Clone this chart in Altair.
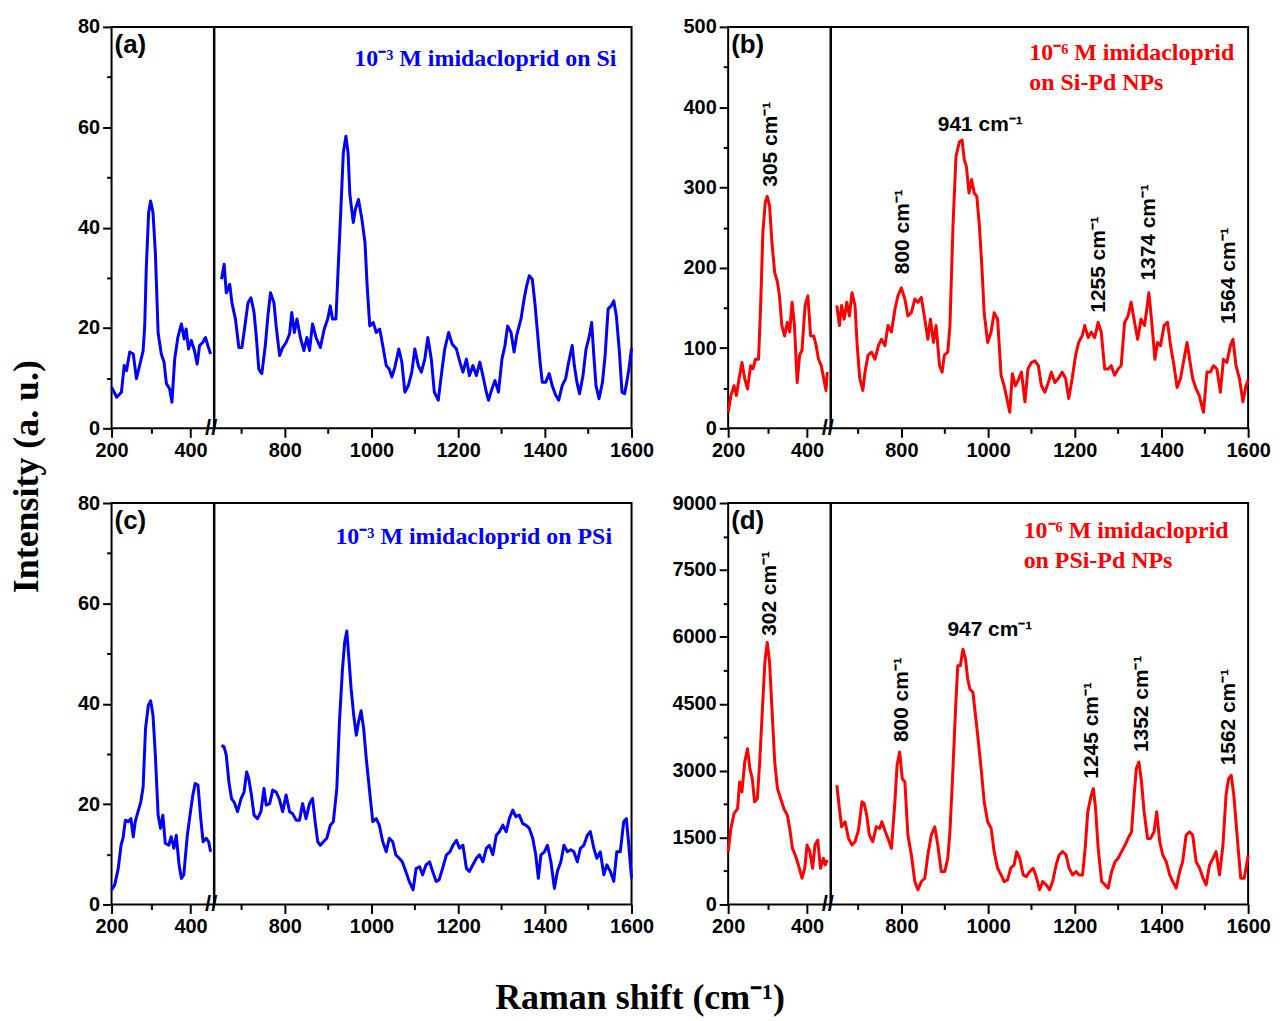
import altair as alt
import pandas as pd

# ---------------- data ----------------
# Panel (a): 10^-3 M imidacloprid on Si
a_low_x = [200, 213, 225, 232, 238, 246, 255, 263, 272, 280, 284, 288, 294, 299, 305, 311, 318, 326, 333, 339,
           347, 353, 360, 368, 377, 384, 389, 395, 402, 410, 417, 423, 431, 438, 444, 451]
a_low_y = [8.2, 6.2, 7.2, 12.5, 11.5, 15.2, 14.8, 9.9, 12.8, 15.5, 20.4, 32, 43, 45.3, 43, 35, 19, 14.8, 13.2, 8.9,
           7.9, 5.2, 13.8, 18.1, 20.8, 17.8, 19.8, 15.8, 17.5, 15.5, 12.8, 16.5, 17.1, 18.1, 16.5, 14.8]
a_high_x = [654, 660, 665, 673, 678, 686, 694, 701, 707, 715, 722, 729, 734, 740, 747, 755, 761, 767, 775, 780,
            788, 795, 803, 811, 816, 822, 828, 836, 844, 851, 857, 864, 872, 882, 891, 899, 905, 910, 918, 922,
            929, 935, 941, 946, 950, 958, 963, 970, 978, 985, 990, 996, 1004, 1011, 1019, 1026, 1034, 1041, 1047, 1054,
            1063, 1070, 1077, 1085, 1093, 1100, 1108, 1115, 1123, 1130, 1138, 1145, 1154, 1162, 1169, 1178, 1186, 1196, 1204, 1211,
            1219, 1226, 1234, 1242, 1250, 1257, 1265, 1270, 1278, 1285, 1293, 1301, 1308, 1314, 1322, 1329, 1335, 1345, 1352, 1358,
            1364, 1371, 1377, 1383, 1389, 1394, 1402, 1410, 1417, 1425, 1432, 1440, 1448, 1455, 1463, 1468, 1474, 1480, 1488, 1495,
            1503, 1508, 1513, 1518, 1525, 1533, 1539, 1546, 1553, 1559, 1565, 1572, 1578, 1584, 1589, 1594, 1600]
a_high_y = [29.7, 32.7, 27, 28.7, 25, 21.8, 16.1, 16.1, 19.8, 25, 26, 23.1, 18.5, 11.8, 10.9, 16.5, 22.4, 27, 25, 20.4,
            14.5, 16.1, 17.1, 18.8, 23.1, 19.1, 21.8, 18.1, 15.5, 18.1, 15.5, 20.8, 18.1, 16.1, 19.8, 21.8, 24.4, 21.8, 21.8, 29.7,
            43, 54.9, 58.2, 54.9, 46.7, 41, 43.7, 45.6, 41.6, 37, 28.4, 20.4, 21.1, 19.1, 19.8, 16.5, 12.5, 11.8, 10.2, 12.2,
            15.8, 13.2, 7.2, 8.5, 11.2, 15.8, 12.5, 11.2, 13.8, 18.1, 13.8, 7.2, 5.6, 11.2, 15.8, 19.1, 16.8, 15.8, 13.2, 11.2,
            13.8, 10.5, 12.5, 10.5, 13.2, 10.5, 7.2, 5.6, 7.9, 9.5, 7.2, 13.8, 16.5, 20.4, 19.1, 15.2, 18.5, 21.8, 25.7, 28.4,
            30.4, 29.7, 25, 19.1, 13.2, 9.2, 9.2, 10.9, 8.5, 6.6, 5.6, 8.5, 9.9, 13.2, 16.5, 12.5, 9.2, 6.9, 10.5, 15.8,
            18.5, 21.1, 14.5, 8.5, 5.9, 9.2, 14.5, 23.8, 24.4, 25.4, 22.4, 15.2, 7.2, 6.9, 9.2, 11.8, 16]

# Panel (b): 10^-6 M imidacloprid on Si-Pd NPs
b_low_x = [200, 207, 215, 221, 227, 235, 242, 249, 257, 263, 269, 277, 282, 288, 294, 299, 305, 311, 318, 325,
           330, 336, 343, 350, 356, 362, 368, 375, 381, 387, 395, 402, 409, 417, 423, 429, 436, 442, 448, 451]
b_low_y = [20, 41, 53, 41, 60, 82, 62, 49, 78, 74, 86, 86, 148, 244, 281, 289, 277, 231, 194, 182,
           165, 128, 115, 132, 120, 157, 128, 57, 91, 97, 153, 165, 115, 115, 103, 86, 78, 62, 47, 70]
b_high_x = [651, 657, 662, 668, 674, 680, 686, 693, 698, 704, 711, 716, 723, 731, 739, 747, 754, 762, 769, 777,
            785, 792, 800, 808, 815, 823, 831, 838, 846, 854, 861, 867, 874, 880, 888, 894, 899, 907, 912, 919,
            926, 934, 940, 945, 950, 956, 962, 968, 974, 980, 986, 991, 999, 1007, 1014, 1022, 1030, 1037, 1045, 1050,
            1056, 1063, 1071, 1077, 1085, 1092, 1100, 1108, 1116, 1123, 1131, 1139, 1146, 1154, 1162, 1171, 1179, 1186, 1194, 1202,
            1209, 1217, 1223, 1231, 1238, 1246, 1254, 1261, 1269, 1277, 1284, 1292, 1300, 1307, 1315, 1323, 1330, 1338, 1345, 1353,
            1361, 1366, 1371, 1377, 1385, 1391, 1398, 1406, 1414, 1421, 1429, 1436, 1444, 1452, 1459, 1465, 1472, 1480, 1487, 1497,
            1505, 1513, 1520, 1528, 1536, 1543, 1551, 1559, 1565, 1572, 1580, 1588, 1595, 1600]
b_high_y = [153, 128, 153, 136, 157, 140, 169, 153, 103, 62, 47, 70, 91, 95, 86, 103, 111, 103, 128, 120,
            148, 165, 175, 161, 140, 144, 161, 157, 163, 136, 111, 136, 107, 128, 78, 70, 91, 95, 128, 252,
            339, 357, 359, 335, 326, 293, 310, 293, 289, 252, 198, 144, 107, 120, 144, 136, 66, 53, 33, 20,
            68, 53, 62, 70, 33, 74, 82, 84, 78, 53, 45, 57, 70, 57, 62, 70, 62, 37, 62, 91,
            107, 115, 128, 113, 120, 113, 132, 120, 74, 74, 78, 66, 74, 78, 132, 140, 157, 132, 111, 136,
            128, 148, 169, 136, 86, 107, 103, 128, 132, 103, 78, 51, 62, 86, 107, 86, 62, 49, 41, 20,
            70, 70, 78, 74, 45, 86, 82, 103, 111, 78, 62, 33, 53, 60]

# Panel (c): 10^-3 M imidacloprid on PSi
c_low_x = [200, 208, 217, 224, 229, 235, 242, 249, 255, 260, 267, 274, 280, 286, 293, 299, 305, 311, 318, 324,
           330, 336, 345, 351, 358, 364, 371, 377, 383, 392, 400, 406, 412, 419, 426, 432, 440, 446, 451]
c_low_y = [2.9, 3.9, 7.2, 11.8, 13.2, 16.8, 16.5, 17.1, 13.5, 16.5, 18.5, 20.4, 23.4, 35, 39.6, 40.6, 37.7, 29.7, 17.8, 15.2,
           17.8, 12.2, 11.8, 13.5, 11.2, 13.8, 7.9, 5.2, 5.9, 13.8, 18.5, 21.8, 24.1, 23.8, 17.1, 12.5, 13.2, 12.5, 10.5]
c_high_x = [654, 660, 665, 671, 677, 683, 691, 699, 706, 712, 717, 723, 729, 737, 745, 752, 757, 765, 772, 780,
            787, 795, 803, 811, 818, 826, 834, 841, 849, 857, 864, 870, 876, 882, 889, 897, 905, 912, 920, 926,
            933, 938, 943, 948, 953, 959, 965, 970, 976, 982, 988, 995, 1003, 1011, 1018, 1026, 1034, 1041, 1049, 1056,
            1064, 1071, 1079, 1087, 1096, 1103, 1111, 1118, 1126, 1134, 1141, 1149, 1156, 1164, 1173, 1181, 1188, 1196, 1203, 1211,
            1219, 1226, 1234, 1242, 1249, 1257, 1265, 1272, 1280, 1288, 1295, 1303, 1311, 1318, 1326, 1333, 1341, 1349, 1356, 1364,
            1372, 1379, 1385, 1391, 1399, 1406, 1414, 1422, 1429, 1437, 1444, 1452, 1460, 1467, 1475, 1482, 1490, 1498, 1505, 1513,
            1520, 1528, 1536, 1543, 1551, 1559, 1566, 1574, 1582, 1588, 1593, 1600]
c_high_y = [31.7, 31.4, 29.7, 24.4, 21.1, 20.4, 18.5, 21.1, 22.4, 26.4, 25, 21.8, 17.8, 17.1, 18.5, 23.1, 19.8, 20.1, 22.8, 22.4,
            21.1, 18.5, 21.8, 18.5, 18.1, 16.8, 16.8, 20.1, 17.1, 20.1, 21.1, 16.5, 12.5, 11.8, 12.5, 13.2, 15.8, 16.5, 23.1, 36.3,
            46.9, 52.2, 54.5, 48.9, 43, 37.7, 33.7, 36.3, 38.6, 35, 29, 23.1, 16.5, 17.1, 15.8, 12.5, 10.5, 13.2, 12.5, 9.9,
            9.2, 8.5, 6.6, 4.6, 2.9, 7.2, 7.5, 5.9, 7.9, 8.5, 6.6, 4.6, 4.9, 7.2, 9.9, 10.5, 11.8, 12.8, 11.2, 11.8,
            7.2, 6.6, 7.9, 9.2, 9.9, 8.5, 11.2, 11.8, 9.9, 13.8, 14.5, 15.8, 14.5, 17.1, 18.8, 17.5, 17.8, 16.1, 15.8, 15.2,
            13.2, 9.9, 5.2, 9.9, 10.5, 11.8, 8.5, 3.2, 6.6, 8.5, 11.8, 10.5, 10.9, 10.5, 8.5, 11.2, 11.8, 13.8, 14.5, 11.2,
            9.2, 10.5, 5.9, 7.9, 6.6, 4.6, 10.5, 10.5, 16.5, 17.1, 12.5, 5.2]

# Panel (d): 10^-6 M imidacloprid on PSi-Pd NPs
d_low_x = [200, 207, 215, 224, 229, 235, 242, 249, 255, 261, 267, 274, 280, 286, 293, 299, 305, 311, 318, 325,
           333, 341, 350, 356, 363, 370, 378, 387, 394, 400, 407, 414, 420, 427, 434, 441, 446, 451]
d_low_y = [1184, 1705, 2040, 2151, 2747, 2524, 3194, 3491, 3045, 2821, 2300, 2375, 3194, 4236, 5427, 5873, 5427, 4385, 3194, 2598,
           2375, 2151, 2003, 1705, 1258, 1109, 886, 588, 811, 1333, 1184, 811, 1333, 1444, 811, 1035, 886, 997]
d_high_x = [651, 657, 662, 670, 678, 686, 693, 701, 709, 714, 720, 726, 734, 742, 750, 755, 763, 769, 777, 785,
            790, 796, 802, 808, 815, 823, 831, 838, 846, 854, 861, 869, 877, 884, 892, 900, 907, 912, 919, 925,
            930, 936, 942, 948, 953, 958, 965, 971, 976, 984, 991, 999, 1007, 1014, 1022, 1030, 1037, 1045, 1052, 1060,
            1066, 1073, 1081, 1088, 1096, 1104, 1111, 1119, 1126, 1134, 1142, 1149, 1157, 1164, 1172, 1180, 1187, 1195, 1203, 1210,
            1218, 1224, 1230, 1238, 1243, 1248, 1254, 1262, 1270, 1277, 1285, 1293, 1300, 1308, 1316, 1323, 1331, 1337, 1342, 1348,
            1354, 1360, 1368, 1375, 1383, 1389, 1396, 1403, 1411, 1419, 1426, 1434, 1442, 1449, 1457, 1465, 1472, 1480, 1488, 1496,
            1503, 1511, 1519, 1526, 1534, 1542, 1549, 1555, 1561, 1567, 1572, 1577, 1583, 1591, 1600]
d_high_y = [2672, 2151, 1742, 1854, 1481, 1333, 1407, 1667, 2300, 2263, 2003, 1556, 1407, 1742, 1705, 1854, 1630, 1481, 1258, 2300,
            3119, 3417, 2821, 2747, 1556, 1109, 514, 328, 514, 588, 1109, 1556, 1742, 1333, 737, 737, 1035, 1630, 3045, 4385,
            5352, 5352, 5724, 5501, 5054, 4831, 4757, 4236, 3789, 3045, 2300, 1854, 1705, 1184, 811, 663, 514, 551, 811, 886,
            1184, 1035, 663, 625, 737, 811, 625, 328, 514, 439, 328, 514, 886, 1109, 1184, 1109, 811, 663, 737, 663,
            663, 1258, 2077, 2449, 2598, 2151, 1258, 514, 439, 365, 737, 960, 1035, 1184, 1333, 1481, 1630, 2449, 3045, 3194,
            2747, 2077, 1481, 1481, 1630, 2077, 1407, 1109, 960, 663, 514, 365, 737, 960, 1556, 1630, 1556, 960, 811, 588,
            439, 886, 1035, 1184, 663, 1333, 2449, 2821, 2896, 2449, 1854, 1258, 588, 588, 1100]

# tick values
x_major_ticks = [200, 400, 800, 1000, 1200, 1400, 1600]
x_minor_ticks = [300, 700, 900, 1100, 1300, 1500]
y_major_small = [0, 20, 40, 60, 80]
y_minor_small = [10, 30, 50, 70]
y_major_b = [0, 100, 200, 300, 400, 500]
y_minor_b = [50, 150, 250, 350, 450]
y_major_d = [0, 1500, 3000, 4500, 6000, 7500, 9000]
y_minor_d = [750, 2250, 3750, 5250, 6750, 8250]

# annotation texts (position in data units)
notes_a = {"x": [1565], "y": [72.2], "text": ["10\u207b\u00b3 M imidacloprid on Si"]}
notes_b = {"x": [1095, 1095], "y": [459, 421], "text": ["10\u207b\u2076 M imidacloprid", "on Si-Pd NPs"]}
notes_c = {"x": [1555], "y": [71.9], "text": ["10\u207b\u00b3 M imidacloprid on PSi"]}
notes_d = {"x": [1082, 1082], "y": [8218, 7548], "text": ["10\u207b\u2076 M imidacloprid", "on PSi-Pd NPs"]}

vpeaks_b = {"x": [308, 804, 1255, 1371, 1557], "y": [301, 192, 144, 184, 130],
            "text": ["305 cm\u207b\u00b9", "800 cm\u207b\u00b9", "1255 cm\u207b\u00b9", "1374 cm\u207b\u00b9", "1564 cm\u207b\u00b9"]}
hpeaks_b = {"x": [982], "y": [370], "text": ["941 cm\u207b\u00b9"]}
vpeaks_d = {"x": [305, 802, 1240, 1355, 1557], "y": [6022, 3640, 2821, 3417, 3119],
            "text": ["302 cm\u207b\u00b9", "800 cm\u207b\u00b9", "1245 cm\u207b\u00b9", "1352 cm\u207b\u00b9", "1562 cm\u207b\u00b9"]}
hpeaks_d = {"x": [1004], "y": [6022], "text": ["947 cm\u207b\u00b9"]}

# ---------------- styling ----------------
BLUE = "#0000ff"
RED = "#ff0000"
SANS = "Liberation Sans"
SERIF = "Liberation Serif"
PW, PH = 522, 403
X_DOMAIN = [200, 460, 637, 1600]
BREAK_PX = 103


def make_panel(xl, yl, xr, yr, y_major, y_minor, color, tag, notes, notes_align,
               vpeaks=None, hpeaks=None):
    assert len(xl) == len(yl) and len(xr) == len(yr)
    ymax = y_major[-1]
    df = pd.DataFrame({
        "shift": list(xl) + list(xr),
        "intensity": list(yl) + list(yr),
        "seg": ["low"] * len(xl) + ["high"] * len(xr),
    })
    one = pd.DataFrame({"k": [0]})
    xs = alt.Scale(domain=X_DOMAIN, range=[0, BREAK_PX, BREAK_PX, PW], nice=False, zero=False)
    ys = alt.Scale(domain=[0, ymax], nice=False, zero=False)
    common = dict(tickColor="black", tickWidth=2, domain=False, grid=False, title=None)
    lab = dict(labelFont=SANS, labelFontWeight="bold", labelFontSize=20, labelColor="black")

    minor = alt.Chart(df).mark_point(opacity=0).encode(
        x=alt.X("shift:Q", scale=xs,
                axis=alt.Axis(values=x_minor_ticks, labels=False, tickSize=5, orient="bottom", **common)),
        y=alt.Y("intensity:Q", scale=ys,
                axis=alt.Axis(values=y_minor, labels=False, tickSize=5, orient="left", **common)),
    )
    line = alt.Chart(df).mark_line(color=color, strokeWidth=3, strokeJoin="round").encode(
        x=alt.X("shift:Q", scale=xs,
                axis=alt.Axis(values=x_major_ticks, format="d", tickSize=9, labelPadding=3,
                              labelFlush=False, orient="bottom", **common, **lab)),
        y=alt.Y("intensity:Q", scale=ys,
                axis=alt.Axis(values=y_major, format="d", tickSize=9, labelPadding=3,
                              orient="left", **common, **lab)),
        detail="seg:N",
    )
    brk = alt.Chart(one).mark_rule(color="black", strokeWidth=2.5).encode(
        x=alt.XDatum(460, scale=xs, axis=None),
        y=alt.YDatum(0, scale=ys, axis=None),
        y2=alt.Y2Datum(ymax),
    )
    slash = alt.Chart(one).mark_text(text="//", font=SANS, fontWeight="bold", fontSize=22,
                                     align="center", baseline="middle", dx=-3, color="black").encode(
        x=alt.XDatum(460, scale=xs, axis=None),
        y=alt.YDatum(0, scale=ys, axis=None),
    )
    tagt = alt.Chart(one).mark_text(text=tag, font=SANS, fontWeight="bold", fontSize=26,
                                    align="left", baseline="top", dx=3, dy=5, color="black").encode(
        x=alt.XDatum(200, scale=xs, axis=None),
        y=alt.YDatum(ymax, scale=ys, axis=None),
    )
    note = alt.Chart(pd.DataFrame(notes)).mark_text(
        font=SERIF, fontWeight="bold", fontSize=24, align=notes_align, baseline="alphabetic", color=color
    ).encode(
        x=alt.X("x:Q", scale=xs, axis=None),
        y=alt.Y("y:Q", scale=ys, axis=None),
        text="text:N",
    )
    layers = [minor, line, brk, slash, tagt, note]
    if vpeaks:
        layers.append(alt.Chart(pd.DataFrame(vpeaks)).mark_text(
            font=SANS, fontWeight="bold", fontSize=21, angle=270, align="left",
            baseline="middle", color="black").encode(
            x=alt.X("x:Q", scale=xs, axis=None),
            y=alt.Y("y:Q", scale=ys, axis=None),
            text="text:N"))
    if hpeaks:
        layers.append(alt.Chart(pd.DataFrame(hpeaks)).mark_text(
            font=SANS, fontWeight="bold", fontSize=21, align="center",
            baseline="alphabetic", color="black").encode(
            x=alt.X("x:Q", scale=xs, axis=None),
            y=alt.Y("y:Q", scale=ys, axis=None),
            text="text:N"))
    return alt.layer(*layers).resolve_axis(x="independent", y="independent").properties(
        width=PW, height=PH)


pa = make_panel(a_low_x, a_low_y, a_high_x, a_high_y, y_major_small, y_minor_small, BLUE, "(a)", notes_a, "right")
pb = make_panel(b_low_x, b_low_y, b_high_x, b_high_y, y_major_b, y_minor_b, RED, "(b)", notes_b, "left",
                vpeaks_b, hpeaks_b)
pc = make_panel(c_low_x, c_low_y, c_high_x, c_high_y, y_major_small, y_minor_small, BLUE, "(c)", notes_c, "right")
pdd = make_panel(d_low_x, d_low_y, d_high_x, d_high_y, y_major_d, y_minor_d, RED, "(d)", notes_d, "left",
                 vpeaks_d, hpeaks_d)

grid = alt.concat(pa, pb, pc, pdd, columns=2, spacing={"row": 75, "column": 97}, bounds="flush",
                  title=alt.Title("Intensity (a. u.)", orient="left", anchor="middle", font=SERIF,
                                  fontWeight="bold", fontSize=36, color="black", offset=31))
chart = alt.vconcat(grid, title=alt.Title("Raman shift (cm\u207b\u00b9)", orient="bottom", anchor="middle",
                                          font=SERIF, fontWeight="bold", fontSize=36, color="black",
                                          offset=44)).properties(
    padding={"left": 8, "top": 14, "right": 10, "bottom": 2},
    background="white",
).configure_view(stroke="black", strokeWidth=2).configure_axis(grid=False)

chart.save("out.html", embed_options={"renderer": "svg", "actions": False})
